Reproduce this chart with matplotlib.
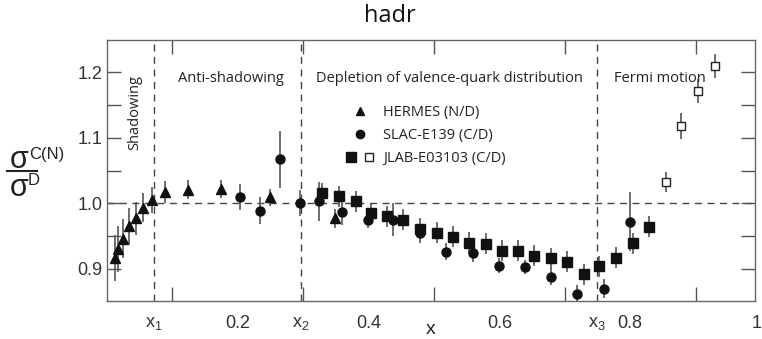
import matplotlib
matplotlib.use("Agg")
import matplotlib.pyplot as plt
from matplotlib.legend_handler import HandlerTuple
from matplotlib.lines import Line2D

# ---------------- data ----------------
hermes_x = [0.012, 0.017, 0.025, 0.034, 0.044, 0.055, 0.069, 0.089, 0.124, 0.174, 0.250, 0.349]
hermes_y = [0.916, 0.930, 0.946, 0.965, 0.977, 0.993, 1.005, 1.017, 1.021, 1.022, 1.009, 0.977]
hermes_err = [0.035, 0.035, 0.030, 0.028, 0.025, 0.022, 0.020, 0.017, 0.014, 0.014, 0.013, 0.014]

slac_x = [0.204, 0.234, 0.265, 0.295, 0.324, 0.359, 0.399, 0.438, 0.479, 0.519,
          0.559, 0.599, 0.639, 0.679, 0.719, 0.760, 0.800]
slac_y = [1.010, 0.989, 1.067, 1.000, 1.003, 0.987, 0.974, 0.975, 0.954, 0.926,
          0.924, 0.905, 0.903, 0.888, 0.861, 0.870, 0.972]
slac_err = [0.020, 0.020, 0.043, 0.020, 0.030, 0.020, 0.012, 0.025, 0.015, 0.013,
            0.013, 0.011, 0.011, 0.013, 0.014, 0.015, 0.045]

jlab_x = [0.329, 0.354, 0.380, 0.404, 0.428, 0.453, 0.479, 0.504, 0.529, 0.553, 0.579,
          0.604, 0.629, 0.653, 0.679, 0.704, 0.729, 0.753, 0.779, 0.804, 0.829]
jlab_y = [1.015, 1.011, 1.003, 0.985, 0.980, 0.975, 0.961, 0.955, 0.949, 0.940, 0.938,
          0.928, 0.928, 0.920, 0.916, 0.911, 0.892, 0.904, 0.917, 0.939, 0.964]
jlab_err = [0.016] * len(jlab_x)

jlab_open_x = [0.854, 0.878, 0.904, 0.929]
jlab_open_y = [1.033, 1.118, 1.171, 1.209]
jlab_open_err = [0.015, 0.020, 0.018, 0.018]

region_bounds = [0.072, 0.297, 0.749]
region_labels = ["Anti-shadowing", "Depletion of valence-quark distribution", "Fermi motion"]
xtick_pos = [0.072, 0.2, 0.297, 0.4, 0.6, 0.749, 0.8]
xtick_lab = ["x$_1$", "0.2", "x$_2$", "0.4", "0.6", "x$_3$", "0.8"]
ytick_pos = [0.9, 1.0, 1.1, 1.2]
ytick_lab = ["0.9", "1.0", "1.1", "1.2"]

# ---------------- style ----------------
plt.rcParams["font.family"] = ["Liberation Sans", "DejaVu Sans"]
plt.rcParams["mathtext.default"] = "regular"
TXT = "#222222"
TICK = "#333333"
ERR = "#555555"

fig = plt.figure(figsize=(7.62, 3.39), dpi=100)
ax = fig.add_axes([0.1404, 0.112, 0.8506, 0.770])
ax.set_xlim(0.0, 0.991)
ax.set_ylim(0.851, 1.249)

for s in ax.spines.values():
    s.set_color("#666666")
    s.set_linewidth(1.0)

# dashed reference lines
ax.axhline(1.0, color="#444444", lw=1.0, ls=(0, (5, 4)), zorder=1)
for xb in region_bounds:
    ax.axvline(xb, color="#444444", lw=1.0, ls=(0, (5, 4)), zorder=1)

ekw = dict(ls="none", ecolor=ERR, elinewidth=1.2, capsize=0, zorder=3)
ax.errorbar(hermes_x, hermes_y, yerr=hermes_err, marker="^", ms=7, mfc="#111111",
            mec="#111111", **ekw)
ax.errorbar(slac_x, slac_y, yerr=slac_err, marker="o", ms=6.5, mfc="#111111",
            mec="#111111", **ekw)
ax.errorbar(jlab_x, jlab_y, yerr=jlab_err, marker="s", ms=7.5, mfc="#111111",
            mec="#111111", **ekw)
ax.errorbar(jlab_open_x, jlab_open_y, yerr=jlab_open_err, marker="s", ms=6, mfc="white",
            mec="#222222", mew=1.0, **ekw)

# ticks
ax.set_xticks(xtick_pos)
ax.set_xticklabels(xtick_lab)
ax.set_xticks([0.1 * i for i in range(1, 10)], minor=True)
ax.tick_params(axis="x", which="major", length=0, pad=10, labelsize=13, colors=TICK)
ax.tick_params(axis="x", which="minor", direction="in", length=10, width=1.0,
               color="#555555", top=True, bottom=True)
ax.set_yticks(ytick_pos)
ax.set_yticklabels(ytick_lab)
ax.set_yticks([0.95, 1.05, 1.15], minor=True)
ax.tick_params(axis="y", which="both", direction="in", length=10, width=1.0,
               color="#555555", left=True, right=True, pad=3, labelsize=13,
               labelcolor=TICK)
fig.text(757 / 762, 1 - 323 / 339, "1", ha="center", va="center",
         fontsize=13, color=TICK)

ax.set_xlabel("x", fontsize=14, color=TXT, labelpad=-8)

# region annotations
afam = ["Open Sans", "DejaVu Sans"]
ax.text(0.042, 1.139, "Shadowing", rotation=90, ha="center", va="center",
        fontsize=10.5, color=TXT, family=afam)
ax.text(0.190, 1.19, region_labels[0], ha="center", va="center", fontsize=10.5,
        color=TXT, family=afam)
ax.text(0.524, 1.19, region_labels[1], ha="center", va="center", fontsize=10.5,
        color=TXT, family=afam)
ax.text(0.845, 1.19, region_labels[2], ha="center", va="center", fontsize=10.5,
        color=TXT, family=afam)

# legend
h1 = Line2D([], [], ls="none", marker="^", ms=6, mfc="#111111", mec="#111111")
h2 = Line2D([], [], ls="none", marker="o", ms=6, mfc="#111111", mec="#111111")
h3a = Line2D([], [], ls="none", marker="s", ms=7, mfc="#111111", mec="#111111")
h3b = Line2D([], [], ls="none", marker="s", ms=6, mfc="white", mec="#222222")
leg = ax.legend([h1, h2, (h3a, h3b)],
                ["HERMES (N/D)", "SLAC-E139 (C/D)", "JLAB-E03103 (C/D)"],
                handler_map={tuple: HandlerTuple(ndivide=None, pad=0.6)},
                loc="upper left", bbox_to_anchor=(0.370, 0.752), frameon=False,
                borderpad=0, borderaxespad=0, handlelength=1.8, handletextpad=0.7,
                labelspacing=0.55, prop={"family": afam, "size": 10.5})
for t in leg.get_texts():
    t.set_color(TXT)

# title
fig.text(0.512, 0.952, "hadr", ha="center", va="center", fontsize=17, color="#111111",
         family=afam)

# y label as a fraction
fig.text(10 / 762, 1 - 160 / 339, "σ", fontsize=22, color=TXT, ha="left", va="center")
fig.text(29 / 762, 1 - 154 / 339, "C(N)", fontsize=12, color=TXT, ha="left", va="center")
fig.add_artist(Line2D([7 / 762, 37 / 762], [1 - 171 / 339, 1 - 171 / 339],
                      color=TXT, lw=1.5, transform=fig.transFigure))
fig.text(10 / 762, 1 - 188 / 339, "σ", fontsize=22, color=TXT, ha="left", va="center")
fig.text(28 / 762, 1 - 180 / 339, "D", fontsize=12, color=TXT, ha="left", va="center")

fig.savefig("out.png", dpi=100)
